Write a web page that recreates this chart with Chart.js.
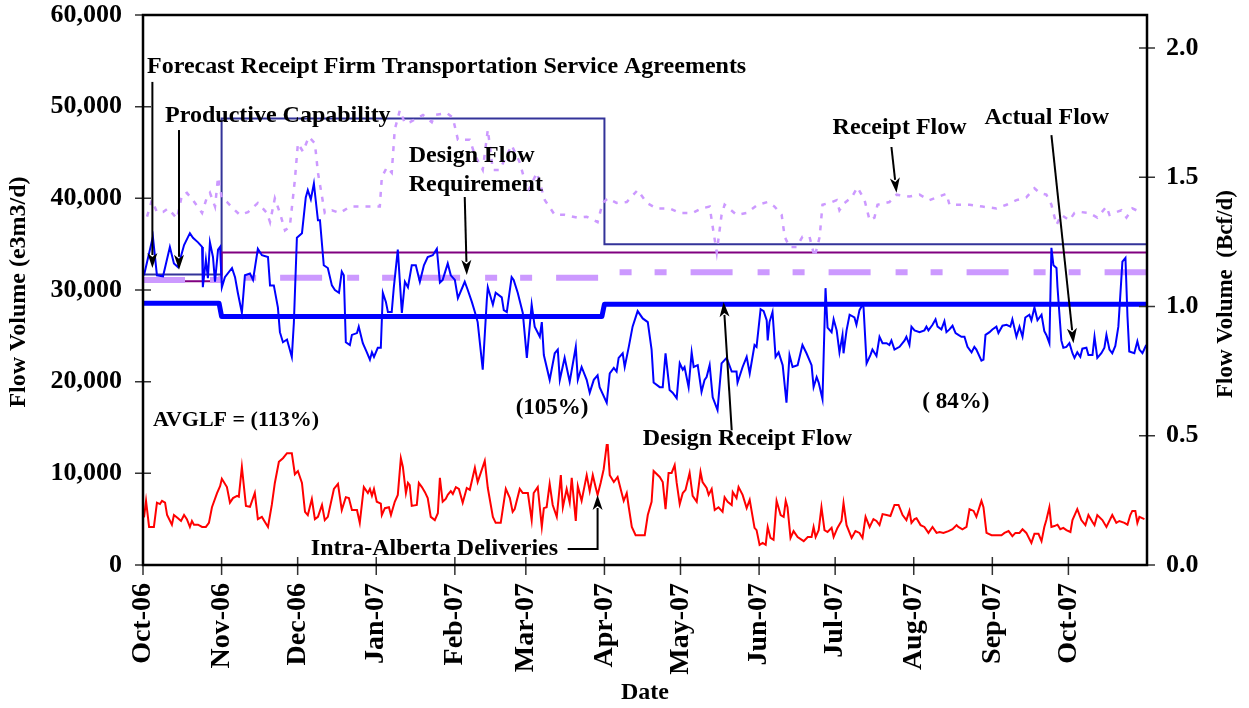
<!DOCTYPE html>
<html>
<head>
<meta charset="utf-8">
<script src="https://cdn.jsdelivr.net/npm/chart.js@4.4.0/dist/chart.umd.min.js"></script>
<style>
  body { margin: 0; background: #fff; }
  canvas { display: block; }
</style>
</head>
<body>
<canvas id="myChart" width="1249" height="708"></canvas>
<script>
'use strict';

// x values are days counted from 1 Oct 2006
let monthStarts = [0, 31, 61, 92, 123, 151, 182, 212, 243, 273, 304, 335, 365];
let monthLabels = ['Oct-06', 'Nov-06', 'Dec-06', 'Jan-07', 'Feb-07', 'Mar-07', 'Apr-07',
  'May-07', 'Jun-07', 'Jul-07', 'Aug-07', 'Sep-07', 'Oct-07'];
let leftTicks = [0, 10000, 20000, 30000, 40000, 50000, 60000];
let rightTicks = [0, 0.5, 1.0, 1.5, 2.0];

// step lines [day, e3m3/d]
let forecastFT = [[0, 31700], [31, 31700], [31, 48700], [182, 48700], [182, 35000], [396, 35000]];
let productiveCap = [[0, 30950], [31, 30950], [31, 34100], [396, 34100]];
let designFlowReq = [[0, 31100], [30, 31100], [31, 31350], [181, 31350], [182, 31950], [396, 31950]];
let designReceipt = [[0, 28550], [30, 28550], [31, 27100], [181, 27100], [182, 28450], [396, 28450]];

// daily flows [day, e3m3/d]
let actualFlow = [[0.4,31600],[3.9,35800],[5.5,31600],[7.9,31500],[10.6,34700],[12.2,32900],[13.8,32500],[16.2,34900],[18.5,36200],[19.7,35700],[21.7,35200],[23.3,34700],[23.6,30300],[24.8,33300],[25.6,31300],[26.4,35200],[27.6,33600],[28.4,30900],[29.6,34400],[30.4,34700],[31.1,30300],[32.3,31400],[35.1,32400],[36.3,31400],[37.4,29700],[39.0,27500],[40.2,31600],[42.2,31800],[43.4,31100],[45.3,34500],[46.9,33800],[49.3,33600],[50.1,30500],[51.6,30500],[53.2,28100],[54.0,25400],[55.2,24300],[56.8,24600],[58.7,22700],[59.5,26400],[60.7,35700],[62.7,36200],[64.2,40100],[65.0,40900],[66.2,39900],[67.4,41600],[69.0,37600],[69.8,37600],[71.3,32700],[72.9,32400],[74.5,30500],[75.7,30000],[77.3,29700],[78.4,32000],[79.2,31600],[80.0,24300],[81.6,24000],[82.4,25100],[84.4,25300],[85.1,26000],[86.7,24200],[88.3,23200],[89.5,22400],[90.3,23200],[91.1,22700],[92.6,23700],[93.8,23700],[94.6,29700],[95.8,28700],[96.6,27600],[98.1,27600],[98.9,30200],[100.5,34400],[102.1,27500],[103.3,30900],[104.5,30300],[106.0,32700],[107.6,32700],[109.2,30900],[110.8,32700],[112.3,33600],[114.3,33800],[115.9,34500],[117.1,30800],[118.2,31100],[120.2,32900],[121.4,31600],[123.0,31100],[124.2,29100],[126.9,30900],[128.1,30000],[129.7,28700],[130.9,27600],[132.0,26500],[134.0,21300],[135.6,28900],[136.0,30300],[138.0,28400],[139.1,29700],[141.5,29200],[142.3,27800],[143.5,27600],[145.4,31400],[146.2,31100],[147.8,29700],[149.8,27500],[151.4,22600],[153.3,28400],[154.5,26000],[156.5,24900],[157.3,26500],[158.1,22900],[160.4,20200],[162.4,23100],[163.6,23500],[164.4,20200],[166.3,22600],[168.3,20000],[170.7,23800],[171.5,20200],[173.0,21600],[175.0,20200],[176.2,18800],[177.8,20200],[179.3,20700],[180.1,19400],[182.9,17700],[184.1,20900],[185.7,21500],[186.8,21100],[187.6,22600],[189.2,23100],[190.0,21600],[191.6,23800],[193.1,26000],[195.1,27700],[197.1,26900],[199.1,26500],[200.6,23500],[201.4,19900],[203.8,19400],[205.0,19400],[206.1,23100],[207.7,19100],[208.9,18800],[210.5,18200],[211.7,22000],[212.9,21300],[213.6,21600],[215.2,19400],[216.4,23200],[217.2,21600],[218.8,21800],[220.3,18900],[221.5,20200],[222.3,20500],[223.5,21800],[224.7,18300],[226.6,16900],[228.2,22000],[230.2,22600],[232.2,21100],[234.1,21100],[234.5,19900],[236.5,21600],[238.1,22700],[239.3,20900],[241.2,24000],[242.0,23800],[243.6,27900],[244.8,27700],[246.0,26700],[246.4,24500],[247.1,26500],[248.3,27600],[249.5,22700],[250.7,23200],[252.3,21800],[253.8,17700],[255.0,22900],[256.2,21600],[258.2,21800],[260.1,24000],[261.7,23100],[263.7,21800],[264.5,19400],[265.7,20500],[266.5,19900],[268.0,18100],[269.2,30200],[270.0,25900],[271.6,25400],[272.4,26800],[273.6,25600],[274.7,23200],[275.9,25100],[276.3,23100],[277.5,25600],[278.7,27300],[280.6,27000],[281.4,26200],[282.6,27800],[283.8,28400],[284.2,28100],[285.4,22000],[286.9,22900],[287.7,23500],[289.3,22800],[290.5,24900],[291.7,24200],[293.3,24200],[294.4,24000],[295.2,24500],[296.4,23500],[298.4,23800],[300.4,24500],[301.1,24900],[302.3,24000],[303.1,26000],[304.3,25600],[306.3,25400],[308.2,25600],[309.0,26000],[309.8,25600],[311.4,26200],[312.6,26800],[313.4,26000],[314.9,25700],[316.1,26600],[316.9,25400],[318.1,25700],[319.3,26100],[320.5,25300],[321.6,25100],[322.8,24900],[324.0,24900],[325.2,23800],[326.8,23200],[327.9,23800],[328.7,23500],[330.7,22300],[331.5,22400],[332.3,25100],[333.9,25400],[335.0,25700],[336.6,26000],[337.4,25300],[339.0,26100],[340.6,26200],[342.1,26000],[342.9,26800],[344.5,24900],[345.7,26000],[346.9,24900],[348.0,27000],[349.6,27300],[350.4,26700],[351.6,28100],[352.8,26700],[354.4,27300],[355.5,25500],[356.3,25100],[357.5,24200],[358.3,34600],[359.1,32700],[360.3,32400],[360.7,30300],[362.2,24500],[363.0,23700],[364.2,23800],[365.4,24200],[366.6,23100],[367.4,22600],[368.5,23200],[369.7,22700],[370.5,23600],[372.1,23700],[372.9,22900],[374.5,22900],[375.3,24900],[376.4,22600],[378.0,23100],[379.2,23700],[380.0,25100],[381.2,23500],[382.3,23100],[383.5,23900],[384.7,26000],[386.3,33100],[387.5,33500],[388.3,27100],[389.0,23300],[391.0,23100],[392.2,24400],[393.0,23500],[394.2,23100],[395.7,24000]];

let receiptFlow = [[1.6,38000],[3.5,39800],[5.5,38500],[7.9,38500],[9.9,38900],[13.4,37800],[15.4,40400],[17.3,40600],[19.7,39800],[23.3,38400],[25.2,40100],[26.4,40600],[28.4,39100],[29.6,42300],[31.1,40000],[33.1,39600],[35.5,38900],[38.2,38200],[41.4,38500],[45.3,39500],[48.9,38400],[50.1,37400],[52.0,40000],[54.0,38400],[56.0,36500],[57.9,36900],[59.9,42000],[61.1,46000],[63.1,45100],[65.4,46700],[67.8,46000],[69.0,42800],[71.7,38400],[74.5,38700],[77.7,38400],[81.6,39100],[86.3,39100],[90.7,39100],[93.4,39100],[94.2,42300],[96.2,43400],[98.1,42800],[99.3,47500],[101.3,49600],[103.3,48200],[105.2,48300],[110.4,49100],[113.9,48300],[115.1,49100],[119.8,49300],[122.2,48800],[124.2,46400],[128.9,46400],[130.9,44700],[134.0,43100],[136.0,47500],[138.0,43100],[140.7,43100],[145.4,45800],[148.6,43900],[151.8,40700],[155.3,42800],[158.5,39800],[162.4,38200],[166.3,38200],[171.1,37900],[175.0,38000],[179.3,37400],[181.3,39500],[183.3,40000],[186.8,39500],[190.8,39600],[195.1,40900],[198.7,39500],[202.6,38900],[207.7,38900],[211.7,38400],[216.8,38400],[220.3,38900],[223.5,39100],[224.7,36900],[226.3,34100],[228.2,38200],[229.4,39300],[234.1,38200],[238.1,38400],[242.4,39300],[246.4,39600],[249.1,39100],[251.9,38200],[253.1,35800],[255.0,34700],[257.8,34700],[260.1,35800],[262.9,35800],[264.9,33600],[266.9,35800],[268.0,39300],[270.8,39500],[273.6,39800],[274.7,38700],[276.7,39500],[279.5,40100],[281.8,41200],[284.6,39800],[286.6,37600],[288.5,37900],[289.7,39300],[294.4,39600],[297.2,40400],[302.3,40200],[306.3,40400],[310.2,39800],[313.0,40100],[316.9,40500],[318.1,39300],[322.0,39300],[326.0,39300],[331.1,39100],[336.6,38900],[340.6,39300],[344.5,39800],[348.4,40100],[351.6,41100],[353.6,40600],[356.3,40400],[358.3,39300],[360.3,37100],[362.2,38200],[365.4,37600],[367.4,38400],[370.1,38500],[373.3,38400],[376.4,37900],[380.0,39100],[381.2,38200],[385.9,38700],[387.9,37900],[390.2,38900],[394.2,38400]];

let intraAlberta = [[0.4,5200],[1.2,7000],[2.4,4150],[4.3,4150],[5.5,6800],[6.7,6650],[7.5,7000],[8.7,6800],[9.5,5450],[11.4,4400],[12.2,5450],[13.8,5100],[15.0,4800],[16.2,5450],[17.3,5000],[18.5,4150],[19.3,4800],[20.1,4400],[21.7,4400],[23.3,4150],[24.8,4150],[26.0,4600],[27.2,6300],[29.2,7850],[30.4,8600],[31.1,9400],[33.1,8500],[34.3,6800],[35.5,7300],[37.1,7550],[37.8,7450],[39.0,10700],[40.6,6450],[42.2,6350],[44.1,7850],[45.3,5000],[46.9,5250],[48.1,4700],[49.3,4150],[50.8,6550],[52.0,8950],[53.6,11250],[55.2,11650],[56.8,12200],[58.7,12200],[59.9,9900],[61.1,10250],[62.7,8950],[63.9,5800],[65.0,5450],[66.6,7200],[67.8,5000],[69.0,5250],[70.6,6550],[71.7,4900],[72.9,5250],[75.3,8300],[76.9,8850],[78.4,6000],[80.0,7400],[81.2,7300],[82.4,6000],[84.4,6000],[85.5,4600],[87.1,8500],[88.7,7850],[89.5,8300],[90.3,7550],[91.1,8300],[92.2,6900],[93.8,6700],[94.2,5450],[95.4,6200],[97.0,6300],[97.8,5450],[99.3,6900],[100.5,7650],[101.7,11650],[102.5,10700],[103.7,7850],[104.5,8950],[105.2,8700],[106.0,6450],[108.0,6550],[108.8,8950],[110.0,8500],[111.2,7950],[112.3,7300],[113.5,5250],[115.1,4900],[116.3,5650],[117.1,9500],[118.2,6900],[119.4,7200],[120.2,7650],[121.4,8050],[122.2,7750],[123.4,8500],[124.6,8300],[126.1,6800],[127.7,8400],[128.9,8200],[130.9,10600],[132.0,9050],[134.8,11350],[136.0,8400],[138.0,5250],[139.1,4600],[141.1,4600],[143.1,8300],[144.7,7300],[145.8,5800],[146.6,6100],[148.6,8300],[149.8,7850],[151.8,7850],[153.3,4900],[154.1,7850],[155.7,8500],[157.3,4150],[158.1,6200],[159.2,6300],[160.4,8850],[161.6,6550],[163.2,5250],[164.8,9800],[165.6,6300],[167.1,8300],[168.3,6800],[169.1,9500],[170.7,4800],[171.5,8600],[173.0,7000],[175.0,9800],[176.2,8050],[177.4,9800],[178.6,8400],[179.3,7650],[180.5,8950],[181.7,10450],[182.9,13100],[183.3,13100],[184.1,9800],[185.7,9050],[187.2,9600],[188.8,7850],[189.6,7000],[190.8,7850],[191.6,6300],[192.8,4150],[194.3,3250],[197.9,3250],[199.1,5450],[200.6,6900],[201.4,10250],[203.8,9600],[205.0,9050],[206.1,6100],[207.3,10050],[208.5,10050],[209.7,10900],[210.5,8950],[211.7,6650],[212.9,7850],[214.0,8200],[215.6,10050],[216.8,7550],[218.4,6900],[219.9,10150],[220.7,9050],[222.3,8400],[223.1,7650],[224.3,8300],[225.5,6000],[227.0,6300],[228.6,5800],[229.4,7400],[230.6,6900],[232.2,6550],[232.6,7950],[234.1,7300],[234.9,8500],[236.5,7650],[238.1,6200],[239.3,7100],[241.2,4050],[242.0,3800],[243.2,2200],[244.4,2400],[245.6,2200],[246.4,4150],[247.5,2950],[248.7,2750],[249.9,7000],[251.5,5450],[252.7,5250],[253.5,7000],[254.2,6300],[255.4,2950],[256.6,3700],[258.2,3050],[260.6,2600],[262.2,3050],[263.7,3050],[264.5,4150],[265.3,3050],[266.5,3800],[267.6,6300],[268.8,3800],[270.0,3600],[271.6,4050],[272.4,3050],[273.9,4050],[275.5,4800],[276.3,6750],[277.5,4350],[279.5,2950],[281.0,3700],[282.6,3500],[283.8,2950],[285.0,5250],[286.6,4150],[288.1,5000],[289.3,4800],[290.5,4350],[291.7,5550],[293.3,5450],[294.8,5350],[296.4,6550],[298.0,6550],[299.6,5450],[301.1,4900],[302.3,5900],[303.1,4600],[304.3,5000],[305.1,5100],[306.7,4350],[308.2,4150],[309.8,3500],[311.4,4150],[313.0,3500],[314.2,3600],[315.7,3500],[317.7,3700],[319.3,3900],[320.9,4350],[321.6,4150],[323.2,3900],[324.8,4150],[326.0,6100],[327.6,5900],[328.7,5250],[330.7,7000],[331.5,6300],[332.7,3500],[334.7,3250],[338.6,3250],[339.8,3500],[341.4,3700],[342.9,3150],[344.1,3500],[345.7,3500],[346.9,3900],[348.4,3500],[350.4,2400],[351.6,3400],[353.2,3400],[354.4,2600],[355.5,4150],[356.3,4900],[357.5,6300],[358.3,4150],[359.5,4250],[360.7,4400],[361.8,3900],[363.0,4050],[364.2,3800],[365.8,3600],[366.6,4900],[368.5,6100],[370.1,4900],[371.7,4350],[372.9,5450],[374.5,4700],[375.3,4350],[376.4,5450],[378.4,4900],[380.0,4150],[382.3,5450],[383.9,4600],[385.1,4800],[387.1,4600],[388.3,4400],[389.4,5450],[390.2,5900],[391.4,5900],[392.2,4600],[393.0,5250],[395.0,5000]];

// labels placed at [day, value], left aligned
let notes = [
  { text: 'Forecast Receipt Firm Transportation Service Agreements', at: [1.6, 54400], size: 24 },
  { text: 'Productive Capability', at: [8.7, 49000], size: 24 },
  { text: 'Design Flow', at: [104.8, 44600], size: 24 },
  { text: 'Requirement', at: [104.8, 41450], size: 24 },
  { text: 'Receipt Flow', at: [272.0, 47650], size: 24 },
  { text: 'Actual Flow', at: [331.9, 48750], size: 24 },
  { text: 'AVGLF = (113%)', at: [3.9, 15800], size: 22 },
  { text: '(105%)', at: [147.0, 17150], size: 23 },
  { text: '( 84%)', at: [307.4, 17800], size: 23 },
  { text: 'Design Receipt Flow', at: [197.1, 13750], size: 24 },
  { text: 'Intra-Alberta Deliveries', at: [66.2, 1750], size: 24 }
];

// arrows as point lists [day, value], head at the last point
let arrows = [
  [[3.7, 52700], [3.7, 32400]],
  [[14.2, 47450], [14.2, 32200]],
  [[126.9, 40150], [127.7, 31650]],
  [[295.2, 45600], [297.2, 40600]],
  [[358.3, 46900], [367.0, 24200]],
  [[232.2, 14700], [229.0, 28700]],
  [[167.5, 1750], [179.3, 1750], [179.3, 7650]]
];

function toXY(list) {
  return list.map(p => ({ x: p[0], y: p[1] }));
}

function fmt(v) {
  return String(v).replace(/\B(?=(\d{3})+(?!\d))/g, ',');
}

let serif = 'Liberation Serif';

let drawExtras = {
  id: 'drawExtras',
  afterDraw(chart) {
    let ctx = chart.ctx;
    let a = chart.chartArea;
    let xs = chart.scales.x;
    let ys = chart.scales.y;
    let yr = chart.scales.y2;
    ctx.save();

    // tick marks crossing the axes
    ctx.strokeStyle = '#333';
    ctx.lineWidth = 1.5;
    ctx.beginPath();
    leftTicks.forEach(v => {
      let y = ys.getPixelForValue(v);
      ctx.moveTo(a.left - 8, y); ctx.lineTo(a.left + 8, y);
    });
    rightTicks.forEach(v => {
      let y = yr.getPixelForValue(v);
      ctx.moveTo(a.right - 8, y); ctx.lineTo(a.right + 8, y);
    });
    monthStarts.forEach(v => {
      let x = xs.getPixelForValue(v);
      ctx.moveTo(x, a.bottom - 8); ctx.lineTo(x, a.bottom + 10);
    });
    ctx.stroke();

    // plot frame
    ctx.strokeStyle = '#000';
    ctx.lineWidth = 2.5;
    ctx.strokeRect(a.left, a.top, a.right - a.left, a.bottom - a.top);

    // axis titles
    ctx.fillStyle = '#000';
    ctx.textAlign = 'center';
    ctx.textBaseline = 'middle';
    ctx.font = 'bold 24px "' + serif + '"';
    ctx.save();
    ctx.translate(19, (a.top + a.bottom) / 2 + 2);
    ctx.rotate(-Math.PI / 2);
    ctx.fillText('Flow Volume (e3m3/d)', 0, 0);
    ctx.restore();
    ctx.font = 'bold 23px "' + serif + '"';
    ctx.save();
    ctx.translate(1226, (a.top + a.bottom) / 2 + 4);
    ctx.rotate(-Math.PI / 2);
    ctx.fillText('Flow Volume  (Bcf/d)', 0, 0);
    ctx.restore();
    ctx.font = 'bold 24px "' + serif + '"';
    ctx.fillText('Date', (a.left + a.right) / 2, 693);

    // annotation texts
    ctx.textAlign = 'left';
    notes.forEach(n => {
      ctx.font = 'bold ' + n.size + 'px "' + serif + '"';
      ctx.fillText(n.text, xs.getPixelForValue(n.at[0]), ys.getPixelForValue(n.at[1]));
    });

    // arrows
    ctx.strokeStyle = '#000';
    ctx.lineWidth = 2;
    arrows.forEach(list => {
      let pts = list.map(p => [xs.getPixelForValue(p[0]), ys.getPixelForValue(p[1])]);
      let end = pts[pts.length - 1];
      let prev = pts[pts.length - 2];
      let ang = Math.atan2(end[1] - prev[1], end[0] - prev[0]);
      let headLen = 15;
      let headW = 5;
      ctx.beginPath();
      ctx.moveTo(pts[0][0], pts[0][1]);
      for (let i = 1; i < pts.length - 1; i++) {
        ctx.lineTo(pts[i][0], pts[i][1]);
      }
      ctx.lineTo(end[0] - Math.cos(ang) * (headLen - 2), end[1] - Math.sin(ang) * (headLen - 2));
      ctx.stroke();
      ctx.beginPath();
      ctx.moveTo(end[0], end[1]);
      ctx.lineTo(end[0] - Math.cos(ang) * headLen - Math.sin(ang) * headW,
        end[1] - Math.sin(ang) * headLen + Math.cos(ang) * headW);
      ctx.lineTo(end[0] - Math.cos(ang) * (headLen - 4), end[1] - Math.sin(ang) * (headLen - 4));
      ctx.lineTo(end[0] - Math.cos(ang) * headLen + Math.sin(ang) * headW,
        end[1] - Math.sin(ang) * headLen - Math.cos(ang) * headW);
      ctx.closePath();
      ctx.fillStyle = '#000';
      ctx.fill();
    });

    ctx.restore();
  }
};

let tickFont = { family: serif, size: 26, weight: 'bold', lineHeight: 1 };

// fixed box sizes so the plot area sits where the original has it
function fitVertical(width) {
  return s => {
    s.width = width;
    s.paddingTop = 0;
    s.paddingBottom = 0;
  };
}

let ctx = document.getElementById('myChart').getContext('2d');
let myChart = new Chart(ctx, {
  type: 'line',
  data: {
    datasets: [{
      label: 'Actual Flow',
      data: toXY(actualFlow),
      borderColor: '#0000FF',
      borderWidth: 2
    }, {
      label: 'Intra-Alberta Deliveries',
      data: toXY(intraAlberta),
      borderColor: '#FF0000',
      borderWidth: 2
    }, {
      label: 'Design Receipt Flow',
      data: toXY(designReceipt),
      borderColor: '#0000FF',
      borderWidth: 5,
      borderJoinStyle: 'round'
    }, {
      label: 'Design Flow Requirement',
      data: toXY(designFlowReq),
      borderColor: '#CC99FF',
      borderWidth: 6,
      borderCapStyle: 'butt',
      borderDash: [42, 25, 12, 23, 12, 24]
    }, {
      label: 'Receipt Flow',
      data: toXY(receiptFlow),
      borderColor: '#CC99FF',
      borderWidth: 2.5,
      borderDash: [5, 7]
    }, {
      label: 'Productive Capability',
      data: toXY(productiveCap),
      borderColor: '#800080',
      borderWidth: 2
    }, {
      label: 'Forecast Receipt FT Service Agreements',
      data: toXY(forecastFT),
      borderColor: '#333399',
      borderWidth: 2
    }]
  },
  options: {
    responsive: false,
    animation: false,
    devicePixelRatio: 1,
    elements: {
      point: { radius: 0 },
      line: { tension: 0, fill: false }
    },
    layout: { padding: { top: 15, left: 0, right: 0, bottom: 0 } },
    plugins: {
      legend: { display: false },
      tooltip: { enabled: false }
    },
    scales: {
      x: {
        type: 'linear',
        min: 0,
        max: 396,
        grid: { display: false, drawTicks: false },
        border: { display: false },
        afterBuildTicks: s => { s.ticks = monthStarts.map(v => ({ value: v })); },
        afterFit: s => {
          s.height = 143;
          s.paddingLeft = 0;
          s.paddingRight = 0;
        },
        ticks: {
          autoSkip: false,
          minRotation: 90,
          maxRotation: 90,
          padding: 18,
          color: '#000',
          font: { family: serif, size: 28, weight: 'bold', lineHeight: 1 },
          callback: (v, i) => monthLabels[i]
        }
      },
      y: {
        position: 'left',
        min: 0,
        max: 60000,
        grid: { display: false, drawTicks: false },
        border: { display: false },
        afterBuildTicks: s => { s.ticks = leftTicks.map(v => ({ value: v })); },
        afterFit: fitVertical(143),
        ticks: {
          padding: 21,
          color: '#000',
          font: tickFont,
          callback: v => fmt(v)
        }
      },
      y2: {
        position: 'right',
        display: true,
        min: 0,
        max: 2.128,
        grid: { display: false, drawTicks: false },
        border: { display: false },
        afterBuildTicks: s => { s.ticks = rightTicks.map(v => ({ value: v })); },
        afterFit: fitVertical(102),
        ticks: {
          padding: 19,
          color: '#000',
          font: tickFont,
          callback: v => v.toFixed(1)
        }
      }
    }
  },
  plugins: [drawExtras]
});
</script>
</body>
</html>
